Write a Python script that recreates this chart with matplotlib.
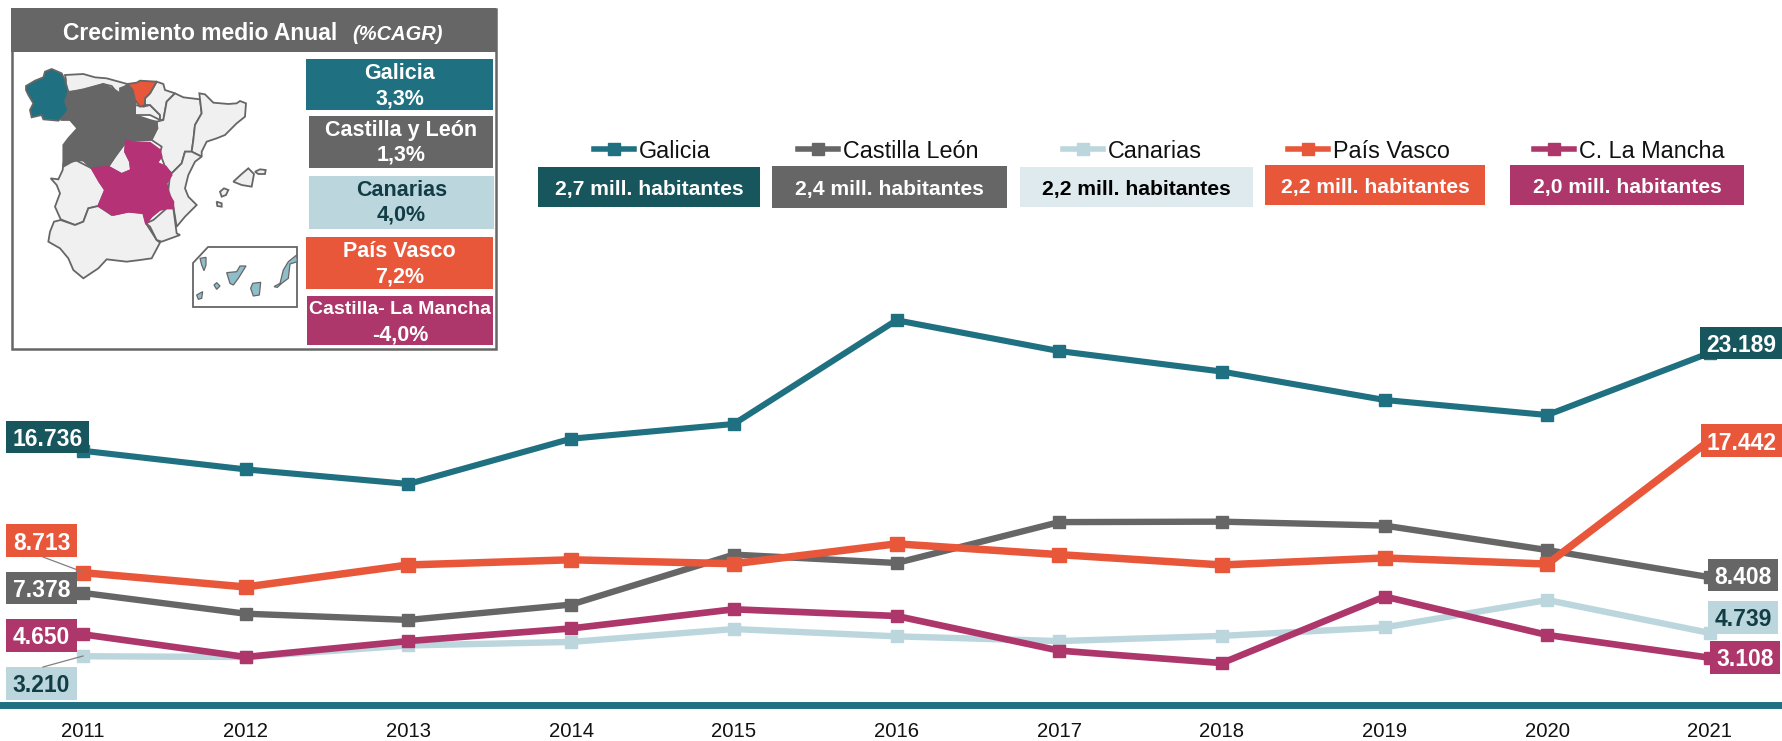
import matplotlib
matplotlib.use("Agg")
import matplotlib.pyplot as plt
from matplotlib.patches import Polygon, Rectangle

plt.rcParams["font.family"] = ["Liberation Sans", "DejaVu Sans"]

W, H = 1782, 741

years = [2011, 2012, 2013, 2014, 2015, 2016, 2017, 2018, 2019, 2020, 2021]
galicia = [16736, 15510, 14550, 17530, 18500, 25330, 23300, 21950, 20080, 19090, 23189]
castilla_leon = [7378, 6010, 5600, 6610, 9900, 9350, 12040, 12070, 11810, 10200, 8408]
canarias = [3210, 3160, 3920, 4150, 5000, 4520, 4210, 4550, 5110, 6910, 4739]
pais_vasco = [8713, 7770, 9220, 9560, 9300, 10610, 9900, 9220, 9680, 9280, 17442]
la_mancha = [4650, 3160, 4210, 5040, 6300, 5860, 3580, 2760, 7140, 4610, 3108]

legend_names = ["Galicia", "Castilla León", "Canarias", "País Vasco", "C. La Mancha"]
habitantes = ["2,7 mill. habitantes", "2,4 mill. habitantes", "2,2 mill. habitantes",
              "2,2 mill. habitantes", "2,0 mill. habitantes"]
panel_names = ["Galicia", "Castilla y León", "Canarias", "País Vasco", "Castilla- La Mancha"]
panel_cagr = ["3,3%", "1,3%", "4,0%", "7,2%", "-4,0%"]

TEAL = "#1F7080"
DARK_TEAL = "#18565E"
GRAY = "#666666"
LIGHT = "#BCD6DD"
PALE = "#DEEAEE"
ORANGE = "#E9573B"
MAGENTA = "#AD376B"
INK = "#123D45"

# map outlines at 3x
MAP_OTHER = [
    # Asturias + Cantabria
    [(195, 225), (250, 222), (285, 232), (320, 235), (382, 252), (360, 280), (345, 270), (335, 258), (310, 252),
     (250, 270), (215, 275), (195, 275), (198, 240)],
    # Rioja
    [(405, 315), (430, 320), (450, 315), (480, 345), (480, 360), (450, 345), (405, 345)],
    # Navarra
    [(470, 245), (490, 252), (495, 270), (525, 280), (500, 305), (490, 360), (480, 360), (480, 345), (450, 315),
     (435, 315), (435, 295), (450, 280)],
    # Aragon
    [(525, 280), (550, 292), (600, 298), (605, 340), (585, 375), (580, 420), (575, 455), (555, 455), (545, 490),
     (515, 520), (495, 500), (480, 460), (485, 440), (455, 420), (472, 385), (470, 365), (490, 360), (500, 305)],
    # Cataluna
    [(598, 280), (615, 283), (640, 308), (685, 312), (710, 310), (720, 303), (738, 310), (735, 350), (710, 370),
     (675, 405), (650, 415), (620, 425), (605, 455), (605, 470), (575, 455), (580, 420), (585, 375), (605, 340),
     (600, 298)],
    # Valencia
    [(555, 455), (575, 455), (605, 470), (585, 485), (565, 525), (555, 565), (565, 590), (590, 615), (555, 650),
     (530, 680), (525, 650), (520, 620), (505, 570), (510, 525), (545, 490)],
    # Madrid
    [(378, 425), (375, 455), (390, 485), (393, 510), (365, 522), (325, 500), (345, 470)],
    # Extremadura
    [(152, 535), (175, 538), (188, 510), (190, 490), (230, 482), (275, 505), (298, 545), (315, 570), (295, 618),
     (265, 625), (250, 665), (225, 675), (182, 658), (165, 620), (180, 580), (170, 555)],
    # Andalucia
    [(162, 665), (182, 660), (225, 675), (250, 665), (265, 625), (295, 618), (335, 645), (385, 635), (430, 638),
     (438, 670), (470, 720), (480, 728), (455, 775), (420, 780), (380, 785), (320, 778), (295, 805), (250, 835),
     (220, 810), (205, 775), (180, 745), (145, 725), (150, 695)],
    # Murcia
    [(438, 670), (460, 660), (500, 625), (520, 625), (530, 700), (540, 705), (485, 725), (470, 720), (450, 680)],
    # Baleares
    [(700, 545), (725, 522), (745, 505), (762, 522), (755, 560), (725, 555)],
    [(765, 515), (780, 508), (797, 510), (795, 522), (775, 522)],
    [(660, 575), (672, 565), (685, 570), (678, 585), (665, 590)],
    [(650, 605), (665, 610), (665, 620), (652, 618)],
]
MAP_GALICIA = [(78, 258), (105, 242), (130, 232), (135, 215), (155, 207), (185, 220), (195, 240), (205, 275),
               (195, 305), (205, 330), (190, 350), (175, 362), (130, 358), (125, 345), (95, 352), (90, 330),
               (100, 310), (85, 285), (78, 270)]
MAP_CYL = [(195, 280), (215, 275), (250, 268), (310, 252), (335, 265), (360, 285), (360, 265), (385, 255), (400, 270),
           (410, 300), (405, 315), (405, 345), (450, 360), (470, 365), (472, 385), (452, 420), (378, 425), (345, 470),
           (325, 500), (275, 505), (250, 482), (225, 480), (190, 500), (190, 435), (205, 415), (232, 385), (210, 360),
           (185, 360), (195, 330), (190, 305)]
MAP_VASCO = [(382, 252), (410, 248), (420, 242), (470, 245), (450, 280), (435, 295), (435, 315), (420, 320),
             (405, 300), (398, 270)]
MAP_CLM = [(378, 420), (400, 428), (450, 428), (480, 450), (485, 470), (472, 488), (498, 500), (515, 525), (500, 550),
           (505, 580), (520, 605), (520, 625), (500, 625), (480, 630), (455, 650), (438, 672), (430, 640), (385, 635),
           (340, 645), (295, 618), (315, 570), (298, 545), (275, 505), (325, 500), (365, 522), (393, 510), (390, 485),
           (375, 455)]
MAP_CANARY_BOX = [(623, 742), (892, 742), (892, 920), (580, 920), (580, 790)]
MAP_CANARY = [
    [(680, 818), (710, 815), (720, 798), (738, 798), (715, 835), (700, 855), (690, 850)],
    [(752, 865), (758, 850), (782, 847), (778, 885), (760, 888)],
    [(822, 860), (840, 850), (850, 810), (865, 785), (890, 765), (892, 785), (870, 792), (865, 835), (845, 850),
     (832, 862)],
    [(600, 775), (618, 772), (618, 795), (612, 812), (605, 795)],
    [(642, 855), (650, 848), (660, 858), (650, 868)],
    [(590, 885), (608, 875), (605, 895), (595, 898)],
]


def fmt(v):
    return f"{v:,}".replace(",", ".")


def box(ax, x0, y0, x1, y1, color, text=None, tcolor="white", size=16, bold=True):
    ax.add_patch(Rectangle((x0, y0), x1 - x0, y1 - y0, fc=color, ec="none"))
    if text is not None:
        ax.text((x0 + x1) / 2, (y0 + y1) / 2, text, color=tcolor, fontsize=size,
                fontweight="bold" if bold else "normal", ha="center", va="center_baseline")


def map_poly(ax, pts, color, edge=GRAY, lw=1.3):
    ax.add_patch(Polygon([(x / 3, y / 3) for x, y in pts], closed=True, fc=color, ec=edge, lw=lw))


fig = plt.figure(figsize=(W / 100, H / 100), dpi=100)

# main chart, x axis line sits at pixel row 705
px_per_year = 162.7
px_per_unit = 0.01519
ax = fig.add_axes([0, 36 / H, 1, 705 / H])
xmin, xmax = 2011 - 83 / px_per_year, 2011 + (W - 83) / px_per_year
ax.set_xlim(xmin, xmax)
ax.set_ylim(0, 705 / px_per_unit)
for s in ["top", "left", "right"]:
    ax.spines[s].set_visible(False)
ax.spines["bottom"].set_color(TEAL)
ax.spines["bottom"].set_linewidth(5)
ax.spines["bottom"].set_bounds(xmin + 2 / px_per_year, xmax)
ax.set_yticks([])
ax.set_xticks(years)
ax.tick_params(axis="x", length=0, pad=12, labelsize=14.6, labelcolor="#111111")

series = [
    (galicia, TEAL, 4.4, 8.6),
    (castilla_leon, GRAY, 4.6, 8.6),
    (canarias, LIGHT, 4.6, 8.6),
    (pais_vasco, ORANGE, 5.4, 9.8),
    (la_mancha, MAGENTA, 4.8, 8.6),
]
for vals, color, lw, ms in series:
    ax.plot(years, vals, color=color, lw=lw, marker="s", ms=ms, solid_joinstyle="miter")

# everything else is placed in pixels on top of the chart
top = fig.add_axes([0, 0, 1, 1], facecolor="none")
top.set_xlim(0, W)
top.set_ylim(H, 0)
top.axis("off")

# leader lines
top.plot([43, 83], [557, 572], color="#808080", lw=0.9)
top.plot([43, 83], [667, 656], color="#808080", lw=0.9)

# first and last value labels
LABEL_SIZE = 16.5
box(top, 6, 421, 89, 453, DARK_TEAL, fmt(galicia[0]), size=LABEL_SIZE)
box(top, 6, 524, 77, 557, ORANGE, fmt(pais_vasco[0]), size=LABEL_SIZE)
box(top, 6, 572, 77, 604, GRAY, fmt(castilla_leon[0]), size=LABEL_SIZE)
box(top, 6, 619, 77, 652, MAGENTA, fmt(la_mancha[0]), size=LABEL_SIZE)
box(top, 6, 667, 77, 700, LIGHT, fmt(canarias[0]), tcolor=INK, size=LABEL_SIZE)
box(top, 1700, 327, 1782, 359, DARK_TEAL, fmt(galicia[-1]), size=LABEL_SIZE)
box(top, 1701, 424, 1782, 457, ORANGE, fmt(pais_vasco[-1]), size=LABEL_SIZE)
box(top, 1708, 559, 1778, 591, GRAY, fmt(castilla_leon[-1]), size=LABEL_SIZE)
box(top, 1708, 601, 1778, 634, LIGHT, fmt(canarias[-1]), tcolor=INK, size=LABEL_SIZE)
box(top, 1710, 641, 1780, 674, MAGENTA, fmt(la_mancha[-1]), size=LABEL_SIZE)

# legend row with population boxes
leg_colors = [TEAL, GRAY, LIGHT, ORANGE, MAGENTA]
leg_x = [594, 798, 1063, 1288, 1534]
hab_boxes = [(538, 167, 760, 207), (772, 166, 1007, 208), (1020, 167, 1253, 207),
             (1265, 165, 1485, 205), (1510, 165, 1744, 205)]
hab_colors = [DARK_TEAL, GRAY, PALE, ORANGE, MAGENTA]
hab_text = ["white", "white", "black", "white", "white"]
for i, name in enumerate(legend_names):
    top.plot([leg_x[i], leg_x[i] + 40], [149, 149], color=leg_colors[i], lw=4)
    top.plot([leg_x[i] + 20], [149], color=leg_colors[i], marker="s", ms=8.5)
    top.text(leg_x[i] + 45, 149, name, fontsize=16.8, color="#111111", ha="left", va="center_baseline")
    x0, y0, x1, y1 = hab_boxes[i]
    box(top, x0, y0, x1, y1, hab_colors[i], habitantes[i], tcolor=hab_text[i], size=15.2)

# CAGR panel
top.add_patch(Rectangle((12, 9), 484, 340, fc="white", ec=GRAY, lw=1.8))
box(top, 11, 8, 496, 52, GRAY)
top.text(63, 31, "Crecimiento medio Anual", color="white", fontsize=16.5, fontweight="bold",
         ha="left", va="center_baseline")
top.text(352, 32, "(%CAGR)", color="white", fontsize=14.5, fontweight="bold", style="italic",
         ha="left", va="center_baseline")

for pts in MAP_OTHER:
    map_poly(top, pts, "#F0F0F0")
map_poly(top, MAP_CYL, GRAY)
map_poly(top, MAP_GALICIA, TEAL)
map_poly(top, MAP_VASCO, ORANGE)
map_poly(top, MAP_CLM, "#B53276", edge="#B53276")
map_poly(top, MAP_CANARY_BOX, "white")
for pts in MAP_CANARY:
    map_poly(top, pts, "#8FBECB", lw=0.9)

panel_boxes = [(306, 59, 493, 110), (309, 116, 493, 168), (309, 176, 494, 229),
               (306, 237, 493, 289), (307, 296, 493, 345)]
panel_colors = [TEAL, GRAY, LIGHT, ORANGE, MAGENTA]
panel_text = ["white", "white", INK, "white", "white"]
panel_sizes = [15.5, 15.5, 15.5, 15.5, 14]
for i, name in enumerate(panel_names):
    x0, y0, x1, y1 = panel_boxes[i]
    box(top, x0, y0, x1, y1, panel_colors[i])
    xc = (x0 + x1) / 2
    top.text(xc, y0 + 12, name, color=panel_text[i], fontsize=panel_sizes[i], fontweight="bold",
             ha="center", va="center_baseline")
    top.text(xc, y0 + 37, panel_cagr[i], color=panel_text[i], fontsize=15.5, fontweight="bold",
             ha="center", va="center_baseline")

fig.savefig("out.png", dpi=100)
plt.close(fig)
